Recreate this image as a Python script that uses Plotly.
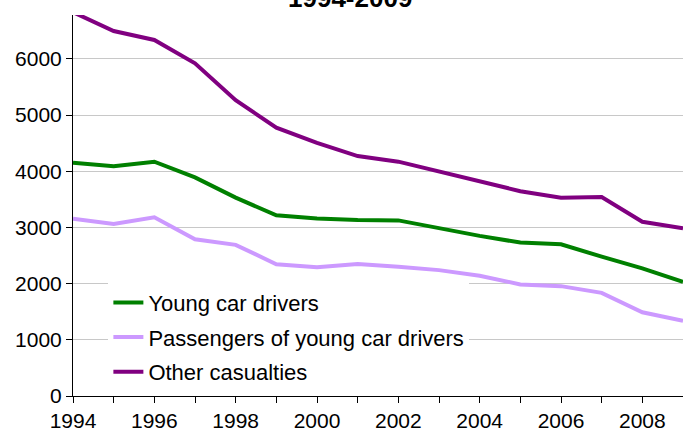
import plotly.graph_objects as go

# casualties by year
anos = list(range(1994, 2010))
jovens = [4150, 4090, 4170, 3890, 3530, 3215, 3160, 3130, 3125, 2985, 2850, 2730, 2700, 2480, 2270, 2030]
passageiros = [3155, 3060, 3180, 2790, 2690, 2345, 2290, 2350, 2300, 2240, 2140, 1985, 1955, 1835, 1490, 1340]
outros = [6830, 6495, 6335, 5920, 5265, 4775, 4505, 4270, 4170, 3990, 3815, 3645, 3530, 3540, 3100, 2985]
rotulos_x = [str(a) if a % 2 == 0 else "" for a in anos]

fig = go.Figure()
fig.add_trace(go.Scatter(x=anos, y=jovens, mode="lines", name="Young car drivers",
                         line=dict(color="#008000", width=4), legendgroup="a"))
fig.add_trace(go.Scatter(x=anos, y=passageiros, mode="lines", name="Passengers of young car drivers",
                         line=dict(color="#CC99FF", width=4), legendgroup="b"))
fig.add_trace(go.Scatter(x=anos, y=outros, mode="lines", name="Other casualties",
                         line=dict(color="#800080", width=4), legendgroup="c"))

fig.update_layout(
    width=683, height=437,
    margin=dict(l=73, r=0, t=15, b=41),
    plot_bgcolor="white", paper_bgcolor="white",
    font=dict(family="Liberation Sans, Arial, sans-serif", size=21, color="black"),
    showlegend=True,
    legend=dict(x=0.058, y=0.30, xanchor="left", yanchor="top",
                bgcolor="white", font=dict(size=22),
                traceorder="grouped", tracegroupgap=3),
)
fig.update_xaxes(range=[1994, 2009], tickvals=anos, ticktext=rotulos_x,
                 showline=True, linecolor="black", linewidth=1,
                 ticks="outside", ticklen=6, tickcolor="black",
                 showgrid=False, zeroline=False)
fig.update_yaxes(range=[0, 6780], dtick=1000, showline=True, linecolor="black", linewidth=1,
                 ticks="outside", ticklen=6, tickcolor="black",
                 showgrid=True, gridcolor="#C8C8C8", gridwidth=1, zeroline=False)
# título cortado no topo, como na imagem original
fig.add_annotation(text="<b>1994-2009</b>", xref="paper", yref="paper",
                   x=0.454, y=1.045, xanchor="center", yanchor="middle",
                   showarrow=False, font=dict(size=26))

# sem margem do body, para o gráfico ocupar a janela toda
fig.write_html("out.html", config={"displayModeBar": False},
               post_script="document.body.style.margin='0';")
